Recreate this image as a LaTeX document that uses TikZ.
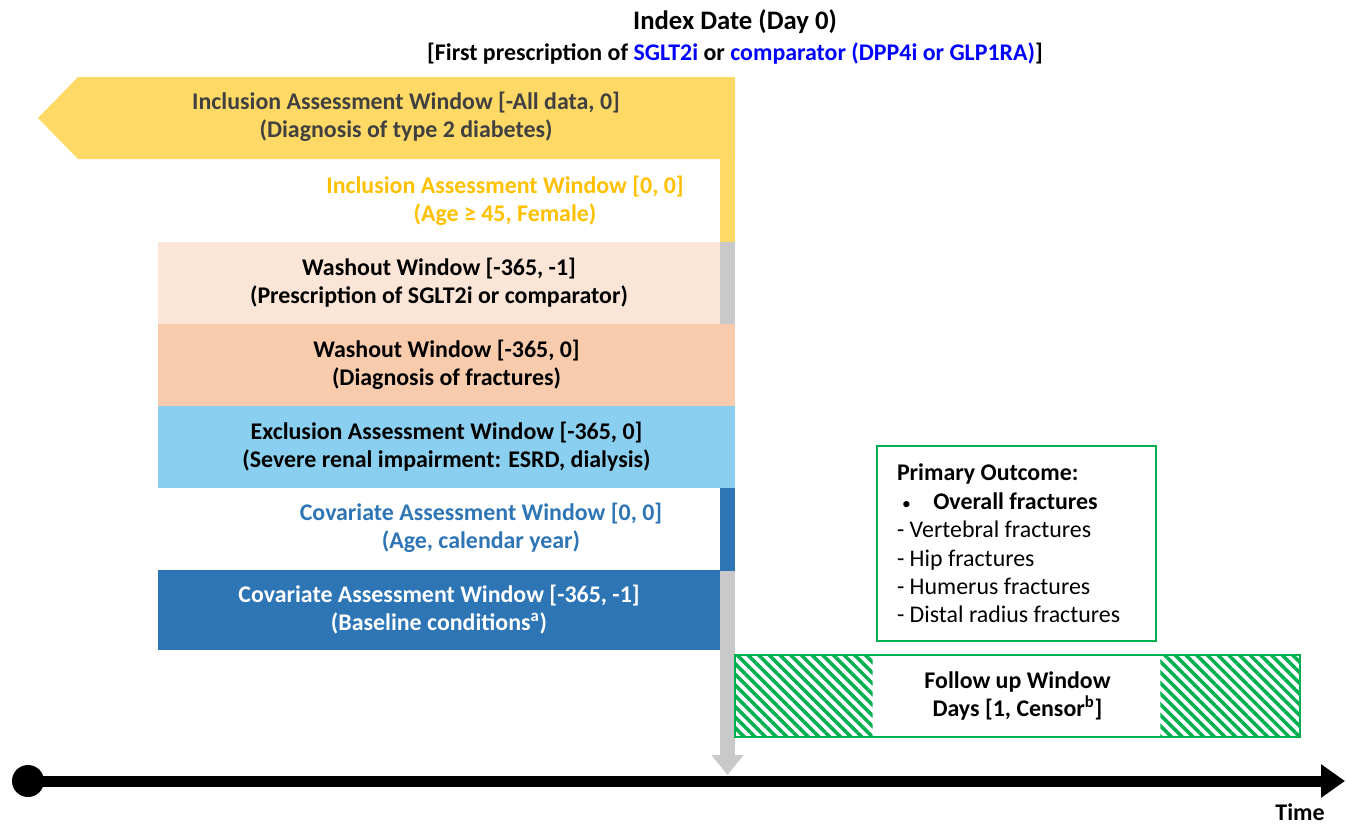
\documentclass[tikz,border=0pt]{standalone}
\usepackage{fontspec}
\setmainfont{Carlito}
\usepackage{xcolor}
\usepackage{tikz}
\usetikzlibrary{arrows.meta, patterns.meta}

\definecolor{gold}{HTML}{FFD966}
\definecolor{goldtext}{HTML}{FFC000}
\definecolor{peachlt}{HTML}{FBE5D6}
\definecolor{peach}{HTML}{F8CBAD}
\definecolor{sky}{HTML}{8ACFEF}
\definecolor{navy}{HTML}{2E75B6}
\definecolor{greyarr}{HTML}{C9C9C9}
\definecolor{outgreen}{HTML}{00B050}
\definecolor{darktext}{HTML}{404040}
\definecolor{rxblue}{HTML}{0000FF}

\begin{document}
\begin{tikzpicture}[x=0.02cm, y=-0.02cm,
  every node/.style={font=\bfseries\fontsize{13.6}{15.9}\selectfont, align=center, inner sep=0pt},
  window/.style={minimum height=1.64cm},
  sidebar/.style={minimum width=0.3cm, minimum height=1.66cm},
  hatch/.style={pattern={Lines[angle=-45, distance=4.3pt, line width=2pt]}, pattern color=outgreen}]

\useasboundingbox (0,0) rectangle (1346,826);

% Index date
\node (idx) at (735,22) {\fontsize{15.2}{17}\selectfont Index Date (Day 0)};
\node (idx2) at (735,54) {[First prescription of \textcolor{rxblue}{SGLT2i} or \textcolor{rxblue}{comparator (DPP4i or GLP1RA)}]};

% grey arrow down to the time line
\coordinate (g0) at (727.5,242);
\coordinate (g1) at (727.5,775);
\draw[greyarr, line width=0.3cm, -{Triangle[length=0.4cm, width=0.62cm]}] (g0) -- (g1);

% inclusion windows
\fill[gold] (78,77) -- (735,77) -- (735,159) -- (78,159) -- (38,118) -- cycle;
\node[text=darktext] (incl1) at (406,117) {Inclusion Assessment Window [-All data, 0]\\(Diagnosis of type 2 diabetes)};

\node[sidebar, fill=gold] (bar2) at (727.5,200.5) {};
\node[text=goldtext] (incl2) at (505,201) {Inclusion Assessment Window [0, 0]\\(Age ≥ 45, Female)};

% washout windows
\node[window, fill=peachlt, minimum width=11.24cm] (wash1) at (439,283) {Washout Window [-365, -1]\\(Prescription of SGLT2i or comparator)};
\node[window, fill=peach, minimum width=11.54cm] (wash2) at (446.5,365) {Washout Window [-365, 0]\\(Diagnosis of fractures)};

% exclusion window
\node[window, fill=sky, minimum width=11.54cm] (excl) at (446.5,447) {Exclusion Assessment Window [-365, 0]\\(Severe renal impairment: ESRD, dialysis)};

% covariate windows
\node[sidebar, fill=navy] (bar6) at (727.5,529) {};
\node[text=navy] (cov1) at (481,528) {Covariate Assessment Window [0, 0]\\(Age, calendar year)};
\node[window, fill=navy, text=white, minimum width=11.24cm, minimum height=1.6cm] (cov2) at (439,610) {Covariate Assessment Window [-365, -1]\\(Baseline conditions\textsuperscript{a})};

% outcome
\node[draw=outgreen, line width=1.2pt, minimum width=5.58cm, minimum height=3.9cm, text width=4.78cm, align=flush left,
  font=\fontsize{13.6}{16.2}\selectfont] (prim) at (1016.5,543.5)
  {\textbf{Primary Outcome:}\\\hspace{0.1cm}{\fontsize{10}{10}\selectfont\textbullet}\hspace{0.45cm}\textbf{Overall fractures}\\- Vertebral fractures\\- Hip fractures\\- Humerus fractures\\- Distal radius fractures};

% follow up
\node[minimum width=11.3cm, minimum height=1.64cm] (fup) at (1017.5,696) {Follow up Window\\Days [1, Censor\textsuperscript{b}]};
\fill[hatch] (fup.north west) rectangle ([xshift=2.76cm]fup.south west);
\fill[hatch] ([xshift=-2.8cm]fup.north east) rectangle (fup.south east);
\draw[outgreen, line width=1.2pt] (fup.north west) rectangle (fup.south east);

% time line
\node[circle, fill=black, minimum size=0.64cm] (t0) at (28,781) {};
\coordinate (t1) at (1345,781);
\draw[line width=0.22cm, -{Triangle[length=0.48cm, width=0.64cm]}] (t0.center) -- (t1);
\node (time) at (1300,812) {Time};

\end{tikzpicture}
\end{document}
